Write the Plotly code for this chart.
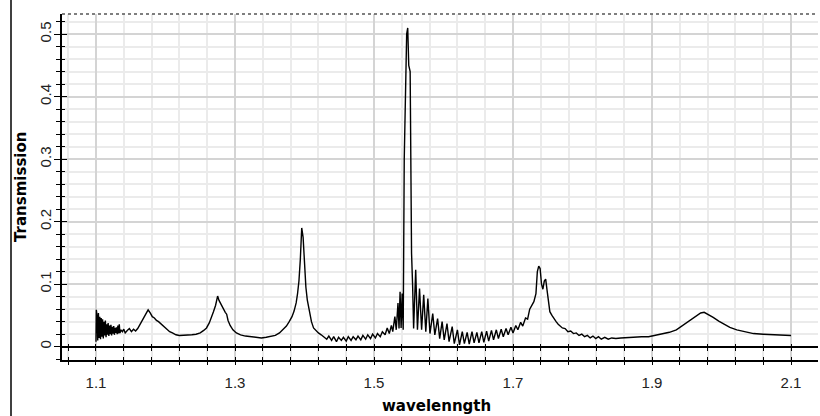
import plotly.graph_objects as go

# ---- data ----
WAVELENGTH = [
    1.1000, 1.1005, 1.1015, 1.1025, 1.1035, 1.1045, 1.1055, 1.1065, 1.1075, 1.1085,
    1.1095, 1.1105, 1.1115, 1.1125, 1.1135, 1.1145, 1.1155, 1.1165, 1.1175, 1.1185,
    1.1195, 1.1205, 1.1215, 1.1225, 1.1235, 1.1245, 1.1255, 1.1265, 1.1275, 1.1285,
    1.1295, 1.1305, 1.1315, 1.1325, 1.1335, 1.1345, 1.136, 1.138, 1.140, 1.142,
    1.145, 1.148, 1.151, 1.154, 1.157, 1.160, 1.163, 1.166, 1.169, 1.172,
    1.175, 1.178, 1.181, 1.184, 1.187, 1.190, 1.194, 1.198, 1.202, 1.206,
    1.210, 1.215, 1.220, 1.226, 1.232, 1.238, 1.244, 1.250, 1.255, 1.259,
    1.263, 1.266, 1.269, 1.272, 1.275, 1.277, 1.280, 1.283, 1.286, 1.288,
    1.290, 1.293, 1.297, 1.302, 1.308, 1.315, 1.322, 1.330, 1.338, 1.345,
    1.352, 1.358, 1.364, 1.369, 1.374, 1.378, 1.382, 1.385, 1.388, 1.390,
    1.392, 1.394, 1.396, 1.398, 1.400, 1.402, 1.404, 1.406, 1.408, 1.410,
    1.413, 1.416, 1.420, 1.424, 1.428, 1.432, 1.435, 1.439, 1.442, 1.446,
    1.449, 1.453, 1.456, 1.460, 1.463, 1.467, 1.470, 1.474, 1.477, 1.481,
    1.484, 1.488, 1.491, 1.495, 1.498, 1.502, 1.505, 1.509, 1.512, 1.516,
    1.519, 1.522, 1.525, 1.527, 1.530, 1.532, 1.5345, 1.5360, 1.5375, 1.5390,
    1.5405, 1.5420, 1.5435, 1.5450, 1.5470, 1.5485, 1.5500, 1.5520, 1.5540, 1.5555,
    1.5570, 1.5600, 1.5625, 1.5655, 1.5685, 1.5715, 1.5745, 1.5775, 1.5805, 1.5845,
    1.5875, 1.5915, 1.5945, 1.5980, 1.6010, 1.6050, 1.6080, 1.6125, 1.6155, 1.6200,
    1.6230, 1.6270, 1.6300, 1.6340, 1.6370, 1.6410, 1.6440, 1.6480, 1.6510, 1.6550,
    1.6580, 1.6620, 1.6650, 1.6690, 1.6720, 1.6760, 1.6790, 1.6830, 1.6860, 1.6900,
    1.6930, 1.6970, 1.7000, 1.7040, 1.7070, 1.7110, 1.7140, 1.7180, 1.7210, 1.7240,
    1.7270, 1.7300, 1.7330, 1.7350, 1.7370, 1.7390, 1.7410, 1.7430, 1.7450, 1.7470,
    1.7490, 1.7510, 1.7530, 1.756, 1.759, 1.762, 1.765, 1.768, 1.771, 1.775,
    1.779, 1.783, 1.787, 1.791, 1.795, 1.799, 1.803, 1.807, 1.811, 1.815,
    1.819, 1.823, 1.827, 1.832, 1.837, 1.842, 1.848, 1.855, 1.865, 1.875,
    1.885, 1.895, 1.905, 1.915, 1.925, 1.935, 1.945, 1.955, 1.963, 1.970,
    1.975, 1.980, 1.988, 1.996, 2.004, 2.012, 2.022, 2.032, 2.046, 2.060,
    2.075, 2.090, 2.100,
]
TRANSMISSION = [
    0.008, 0.059, 0.050, 0.010, 0.054, 0.014, 0.048, 0.012, 0.046, 0.016,
    0.044, 0.013, 0.040, 0.018, 0.042, 0.015, 0.036, 0.019, 0.038, 0.017,
    0.034, 0.020, 0.035, 0.018, 0.032, 0.021, 0.033, 0.019, 0.030, 0.022,
    0.031, 0.020, 0.034, 0.021, 0.036, 0.022, 0.027, 0.024, 0.028, 0.022,
    0.026, 0.029, 0.024, 0.028, 0.025, 0.029, 0.035, 0.040, 0.047, 0.053,
    0.059, 0.054, 0.048, 0.046, 0.042, 0.040, 0.036, 0.032, 0.028, 0.024,
    0.022, 0.019, 0.018, 0.018, 0.018, 0.019, 0.020, 0.022, 0.026, 0.030,
    0.038, 0.046, 0.056, 0.066, 0.081, 0.074, 0.067, 0.060, 0.055, 0.052,
    0.042, 0.034, 0.027, 0.022, 0.019, 0.017, 0.016, 0.015, 0.014, 0.015,
    0.016, 0.018, 0.022, 0.027, 0.033, 0.040, 0.048, 0.057, 0.070, 0.085,
    0.105, 0.140, 0.190, 0.175, 0.130, 0.095, 0.075, 0.062, 0.055, 0.040,
    0.030, 0.026, 0.022, 0.019, 0.016, 0.012, 0.017, 0.010, 0.016, 0.008,
    0.015, 0.010, 0.015, 0.009, 0.016, 0.010, 0.016, 0.011, 0.017, 0.011,
    0.018, 0.012, 0.019, 0.013, 0.020, 0.014, 0.021, 0.016, 0.024, 0.019,
    0.030, 0.021, 0.034, 0.024, 0.048, 0.027, 0.070, 0.029, 0.088, 0.030,
    0.085, 0.027, 0.300, 0.410, 0.500, 0.510, 0.450, 0.440, 0.150, 0.100,
    0.029, 0.123, 0.027, 0.093, 0.027, 0.083, 0.024, 0.077, 0.021, 0.053,
    0.019, 0.045, 0.013, 0.040, 0.011, 0.037, 0.008, 0.032, 0.005, 0.027,
    0.003, 0.024, 0.005, 0.023, 0.004, 0.024, 0.006, 0.023, 0.006, 0.024,
    0.007, 0.025, 0.009, 0.026, 0.011, 0.027, 0.013, 0.028, 0.016, 0.029,
    0.019, 0.031, 0.022, 0.034, 0.027, 0.039, 0.033, 0.046, 0.044, 0.060,
    0.066, 0.072, 0.085, 0.120, 0.129, 0.125, 0.100, 0.092, 0.105, 0.108,
    0.090, 0.070, 0.056, 0.050, 0.044, 0.040, 0.036, 0.033, 0.030, 0.029,
    0.024, 0.025, 0.021, 0.022, 0.018, 0.020, 0.016, 0.018, 0.014, 0.017,
    0.013, 0.016, 0.012, 0.015, 0.012, 0.014, 0.013, 0.014, 0.015, 0.015,
    0.016, 0.016, 0.018, 0.020, 0.023, 0.027, 0.035, 0.042, 0.049, 0.054,
    0.055, 0.052, 0.047, 0.041, 0.036, 0.031, 0.027, 0.024, 0.021, 0.020,
    0.019, 0.018, 0.018,
]
X_TICKS = [1.1, 1.3, 1.5, 1.7, 1.9, 2.1]
X_TICK_LABELS = ["1.1", "1.3", "1.5", "1.7", "1.9", "2.1"]
Y_TICKS = [0, 0.1, 0.2, 0.3, 0.4, 0.5]
Y_TICK_LABELS = ["0", "0.1", "0.2", "0.3", "0.4", "0.5"]

# ---- layout geometry ----
W, H = 820, 416
ML, MR, MT, MB = 62, 2, 14, 56
PW, PH = W - ML - MR, H - MT - MB
X_RANGE = [1.0511, 2.1388]
Y_RANGE = [-0.0213, 0.5323]
ZERO_POS = (0 - Y_RANGE[0]) / (Y_RANGE[1] - Y_RANGE[0])

TICK_FONT = dict(family="Liberation Sans", size=15, color="#222222")
TITLE_FONT = dict(family="DejaVu Sans", size=15, color="black")

fig = go.Figure()
fig.add_trace(go.Scatter(
    x=WAVELENGTH, y=TRANSMISSION, mode="lines",
    line=dict(color="black", width=1.4), showlegend=False, hoverinfo="skip",
))
# helper (empty) traces so overlay axes are drawn
for xa, ya in [("x2", "y"), ("x3", "y"), ("x4", "y"), ("x", "y2")]:
    fig.add_trace(go.Scatter(x=[None], y=[None], xaxis=xa, yaxis=ya,
                             showlegend=False, hoverinfo="skip"))

common_x = dict(range=X_RANGE, tick0=1.1, dtick=0.2, tickcolor="black",
                showticklabels=False, showgrid=False, zeroline=False)
minor_x_out = dict(ticks="outside", ticklen=3, dtick=0.04, tick0=1.1, tickcolor="black")
minor_x_in = dict(ticks="inside", ticklen=3, dtick=0.04, tick0=1.1, tickcolor="black")

fig.update_layout(
    width=W, height=H,
    margin=dict(l=ML, r=MR, t=MT, b=MB),
    paper_bgcolor="white", plot_bgcolor="white",
    xaxis=dict(
        range=X_RANGE, tickvals=X_TICKS, ticktext=X_TICK_LABELS,
        ticks="outside", ticklen=3, tickcolor="black", tickwidth=1,
        showline=True, linecolor="black", linewidth=2,
        showgrid=True, gridcolor="#d4d4d4", gridwidth=1.5,
        zeroline=False, tickfont=TICK_FONT, ticklabelstandoff=5,
        minor=dict(ticks="outside", ticklen=3, dtick=0.04, tick0=1.1,
                   tickcolor="black", showgrid=True, gridcolor="#ebebeb", gridwidth=1.5),
    ),
    xaxis2=dict(overlaying="x", anchor="y", side="bottom", ticks="inside", ticklen=3,
                minor=minor_x_in, showline=False, **common_x),
    xaxis3=dict(overlaying="x", anchor="free", position=ZERO_POS, side="bottom",
                ticks="outside", ticklen=3, minor=minor_x_out,
                showline=True, linecolor="black", linewidth=2, **common_x),
    xaxis4=dict(overlaying="x", anchor="free", position=ZERO_POS, side="bottom",
                ticks="inside", ticklen=3, minor=minor_x_in, showline=False, **common_x),
    yaxis=dict(
        range=Y_RANGE, tickvals=Y_TICKS, ticktext=Y_TICK_LABELS,
        ticks="outside", ticklen=6, tickcolor="black", tickwidth=1,
        showline=True, linecolor="black", linewidth=1.5,
        showgrid=True, gridcolor="#d4d4d4", gridwidth=1.5,
        zeroline=False, tickangle=-90, tickfont=TICK_FONT, ticklabelstandoff=-3,
        minor=dict(ticks="outside", ticklen=4, dtick=0.02, tick0=0,
                   tickcolor="black", showgrid=True, gridcolor="#ebebeb", gridwidth=1.5),
    ),
    yaxis2=dict(
        overlaying="y", anchor="x", side="left", range=Y_RANGE,
        tick0=0, dtick=0.1, ticks="inside", ticklen=5, tickcolor="black",
        showticklabels=False, showgrid=False, zeroline=False, showline=False,
        minor=dict(ticks="inside", ticklen=3, dtick=0.02, tick0=0, tickcolor="black"),
    ),
    annotations=[
        dict(text="<b>Transmission</b>", xref="paper", yref="paper",
             x=(21 - ML) / PW, y=0.5, textangle=-90, showarrow=False,
             xanchor="center", yanchor="middle", font=TITLE_FONT),
        dict(text="<b>wavelenngth</b>", xref="paper", yref="paper",
             x=(436 - ML) / PW, y=-(406 - (MT + PH)) / PH, showarrow=False,
             xanchor="center", yanchor="middle", font=TITLE_FONT),
    ],
    shapes=[
        dict(type="line", xref="paper", yref="paper", x0=0, x1=1, y0=1, y1=1,
             line=dict(color="#555555", width=1.5, dash="dot")),
        dict(type="line", xref="paper", yref="paper",
             x0=(11 - ML) / PW, x1=(11 - ML) / PW,
             y0=-MB / PH, y1=1 + MT / PH,
             line=dict(color="black", width=1.5)),
    ],
)

fig.write_html("out.html", config={"displayModeBar": False},
               post_script="document.body.style.margin='0';")
